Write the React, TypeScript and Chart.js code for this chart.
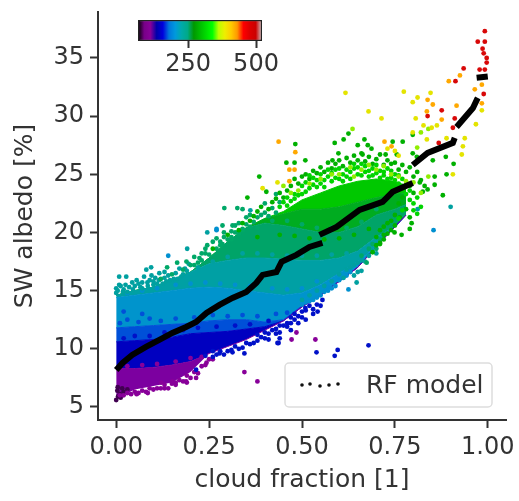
import React, { useEffect, useRef } from "react";
import { Chart, registerables } from "chart.js";

Chart.register(...registerables);

const FONT = "'DejaVu Sans'";
const INK = "#333333";

const xTicks = [0, 0.25, 0.5, 0.75, 1];
const yTicks = [5, 10, 15, 20, 25, 30, 35];
const barTicks = [250, 500];
const yTitle = "SW albedo [%]";
const xTitle = "cloud fraction [1]";
const legendLabel = "RF model";

// nipy_spectral stops for the colour bar
const spectral = ["#000000", "#780088", "#880099", "#0000aa", "#0000dd", "#0077dd", "#0099dd", "#00aaaa", "#00aa88", "#009900", "#00bb00", "#00dd00", "#00ff00", "#bbff00", "#eeee00", "#ffcc00", "#ff9900", "#ff0000", "#dd0000", "#cc0000", "#cccccc"];

// RF model, null marks the visible breaks in the curve
const rfX = [0, 0.017, 0.043, 0.08, 0.116, 0.151, 0.188, 0.215, 0.243, 0.278, 0.313, 0.35, 0.377, 0.394, 0.431, 0.445, 0.485, 0.52, 0.555, null, 0.547, 0.593, 0.655, 0.717, 0.744, 0.798, null, 0.798, 0.838, 0.906, 0.911, null, 0.916, 0.96, 0.973, null, 0.97, 1.0];
const rfY = [8.18, 8.78, 9.47, 10.16, 10.76, 11.36, 11.88, 12.3, 13.08, 13.77, 14.37, 14.89, 15.66, 16.35, 16.6, 17.47, 18.07, 18.76, 19.1, null, 19.79, 20.48, 21.94, 22.63, 23.49, 24.26, null, 25.8, 26.84, 27.7, 28.13, null, 29.07, 30.7, 31.57, null, 33.29, 33.4];

// solid core of the cloud, boundaries between colour bands
const bandX = [0, 0.05, 0.1, 0.15, 0.2, 0.25, 0.3, 0.35, 0.4, 0.45, 0.5, 0.55, 0.6, 0.65, 0.7, 0.75, 0.78];
const edgeLow = [5.7, 6.5, 6.8, 7.1, 8.0, 9.6, 10.2, 10.8, 11.6, 12.4, 13.6, 14.6, 15.8, 17.0, 18.8, 20.5, 21.5];
const purpleTop = [8.3, 8.3, 8.4, 8.6, 8.9, 9.6, 10.2, 10.8, 11.6, 12.4, 13.6, 14.6, 15.8, 17.0, 18.8, 20.5, 21.5];
const deepBlueTop = [10.6, 10.7, 10.8, 11.0, 11.3, 11.4, 11.5, 11.7, 11.9, 12.4, 13.6, 14.6, 15.8, 17.0, 18.8, 20.5, 21.5];
const blueTop = [11.8, 11.9, 12.0, 12.1, 12.2, 12.4, 12.5, 12.5, 12.3, 12.5, 13.7, 14.6, 15.8, 17.0, 18.8, 20.5, 21.5];
const skyTop = [14.4, 14.6, 14.8, 15.0, 15.2, 15.3, 15.2, 15.0, 14.8, 14.6, 14.8, 15.5, 16.5, 17.5, 18.8, 20.5, 21.5];
const tealTop = [14.6, 15.0, 15.3, 15.9, 16.6, 17.3, 17.6, 17.8, 17.8, 17.7, 17.6, 17.6, 17.8, 18.4, 19.6, 20.5, 21.5];
const seaTop = [14.6, 15.0, 15.3, 15.9, 16.6, 17.8, 19.2, 20.4, 20.8, 20.6, 20.3, 20.0, 20.0, 20.5, 21.5, 22.0, 22.4];
const greenTop = [14.6, 15.0, 15.3, 15.9, 16.6, 17.8, 19.2, 20.4, 21.2, 21.6, 22.0, 22.0, 22.2, 22.6, 23.0, 23.3, 23.4];
const edgeTop = [14.6, 15.0, 15.3, 15.9, 16.6, 17.8, 19.2, 20.4, 21.2, 21.8, 22.8, 23.4, 24.0, 24.4, 24.6, 24.4, 24.0];

// individual fringe points: x, y pairs
const redPts = [0.992, 37.3, 0.973, 36.4, 0.992, 36.4, 0.986, 35.8, 0.989, 35.4, 0.997, 35, 0.997, 34.6, 0.978, 34, 0.992, 34, 0.935, 34.1, 0.913, 33, 0.989, 31.9, 0.876, 30.5, 0.838, 30, 0.868, 27.7, 0.911, 29.8, 0.906, 29];
const orangePts = [0.895, 33, 0.925, 33.5, 0.965, 32.3, 0.984, 32.7, 0.984, 31.1, 0.916, 30.9, 0.876, 29.7, 0.722, 27.8, 0.741, 27.4, 0.852, 31, 0.838, 31.4, 0.836, 30.4, 0.437, 27.8, 0.482, 26.9, 0.466, 25.4, 0.48, 25.4, 0.466, 24.4];
const yellowPts = [0.617, 32, 0.774, 32.1, 0.679, 30.4, 0.714, 29.8, 0.798, 31.2, 0.811, 31.6, 0.846, 32, 0.806, 29.8, 0.827, 29.2, 0.849, 29, 0.863, 29.2, 0.798, 28.6, 0.889, 28.1, 0.968, 29.3, 0.984, 30.5, 0.938, 28.1, 0.933, 27.4, 0.93, 26.7, 0.906, 25, 0.836, 28, 0.394, 23.8, 0.434, 24.3, 0.75, 27, 0.76, 26.6, 0.73, 27.2];
const limePts = [0.636, 28.9, 0.63, 25.6, 0.66, 25.4, 0.68, 25.8, 0.7, 25.4, 0.72, 25.7, 0.74, 25, 0.64, 24.8, 0.58, 25, 0.55, 24.6, 0.52, 24.2, 0.47, 23.4, 0.45, 24, 0.49, 23.6, 0.6, 25, 0.76, 24.8, 0.8, 24.3, 0.84, 24.8, 0.82, 23.4, 0.78, 24.4, 0.82, 28.6, 0.84, 28.9, 0.81, 27.3];
const brightPts = [0.44, 22.2, 0.45, 22.6, 0.46, 22.3, 0.46, 23, 0.47, 22.7, 0.48, 23.3, 0.48, 22.9, 0.49, 23.2, 0.5, 23.3, 0.5, 24, 0.51, 23.5, 0.51, 24.3, 0.52, 23.8, 0.52, 24.9, 0.53, 24.1, 0.53, 24.7, 0.54, 23.9, 0.54, 24.5, 0.55, 24.2, 0.55, 25, 0.56, 24.5, 0.56, 23.9, 0.57, 24.8, 0.57, 25.4, 0.58, 24.4, 0.58, 25.1, 0.59, 24.7, 0.59, 25.4, 0.6, 24.6, 0.6, 25.5, 0.61, 25, 0.61, 24.4, 0.62, 25.4, 0.62, 24.8, 0.63, 25.2, 0.63, 24.6, 0.64, 25.5, 0.64, 25.9, 0.65, 25, 0.65, 25.6, 0.66, 24.9, 0.66, 25.9, 0.67, 25.2, 0.67, 25.7, 0.68, 24.8, 0.68, 25.3, 0.69, 25.5, 0.69, 24.9, 0.7, 25.1, 0.7, 25.8, 0.71, 25.3, 0.71, 24.7, 0.72, 25.2, 0.72, 24.9, 0.73, 25.5, 0.73, 24.6, 0.74, 25.3, 0.74, 24.7, 0.75, 25, 0.75, 24.5, 0.76, 24.9, 0.76, 24.2, 0.77, 24.6, 0.77, 24, 0.78, 24.1, 0.78, 23.3, 0.79, 23.6, 0.79, 22.8, 0.8, 22.5, 0.8, 21.9, 0.81, 23, 0.81, 21.6, 0.82, 22.2, 0.77, 21.9, 0.76, 21.2];
const greenPts = [0.625, 28.5, 0.612, 28, 0.588, 27.7, 0.598, 26.8, 0.668, 28, 0.65, 27.5, 0.677, 27.5, 0.687, 27.2, 0.663, 26.7, 0.725, 26.7, 0.755, 26.7, 0.744, 27.8, 0.771, 27.8, 0.798, 28.4, 0.798, 26.8, 0.809, 26.5, 0.887, 26.5, 0.908, 25.9, 0.852, 26.2, 0.889, 25, 0.857, 24.8, 0.857, 24.1, 0.879, 23.2, 0.838, 23.7, 0.817, 24.3, 0.825, 23.5, 0.763, 21.3, 0.79, 21.3, 0.795, 20.8, 0.749, 20, 0.768, 19.8, 0.509, 26.2, 0.582, 26.2, 0.482, 27.6, 0.458, 26, 0.48, 26, 0.385, 24.8, 0.353, 23, 0.404, 23.5,
  0.26, 18.6, 0.3, 19.8, 0.33, 20.2, 0.34, 20.8, 0.36, 21, 0.37, 21.4, 0.38, 21.8, 0.39, 22.2, 0.41, 22, 0.42, 22.6, 0.43, 22.9, 0.44, 23.4, 0.45, 23, 0.46, 23.6, 0.47, 24, 0.48, 24.6, 0.49, 24.2, 0.5, 24.8, 0.51, 25, 0.52, 24.6, 0.53, 25.3, 0.54, 25.1, 0.55, 25.6, 0.56, 25.2, 0.57, 26, 0.58, 25.5, 0.59, 25.9, 0.6, 26.2, 0.61, 25.7, 0.62, 26.4, 0.63, 26, 0.64, 26.6, 0.65, 26.2, 0.66, 26.8, 0.67, 26.1, 0.68, 26.5, 0.69, 25.9, 0.7, 26.3, 0.71, 26.7, 0.72, 25.8, 0.73, 26.2, 0.74, 25.9, 0.75, 26, 0.76, 25.4, 0.77, 25.8, 0.78, 25.2, 0.79, 25.6, 0.8, 24.8, 0.81, 25.2, 0.82, 24.5, 0.83, 24, 0.79, 24, 0.8, 23.4, 0.77, 23, 0.76, 22.5, 0.78, 22, 0.75, 21.5, 0.74, 21, 0.73, 20.8, 0.72, 20.5, 0.71, 20.2, 0.7, 19.6, 0.69, 18.3,
  0.75, 20.6, 0.74, 20.2, 0.73, 19.9, 0.72, 19.4, 0.71, 19.1, 0.7, 18.9, 0.79, 20.3, 0.72, 19.8, 0.71, 19, 0.38, 19.6, 0.44, 19.8, 0.48, 19.7, 0.52, 19.5, 0.56, 19.4, 0.6, 19.5, 0.64, 19.8, 0.68, 20.3];
const seaPts = [0.137, 17, 0.164, 17.4, 0.189, 17.5, 0.224, 17.8, 0.245, 18.9, 0.286, 20.6, 0.313, 20.6, 0.291, 22.1, 0.326, 22.1, 0.34, 22, 0.286, 19, 0.31, 19.4, 0.28, 19.2, 0.24, 18.2, 0.21, 17.2, 0.18, 16.8, 0.15, 16.4, 0.12, 16, 0.674, 17.4, 0.66, 18, 0.68, 18.6, 0.69, 19,
  0.2, 17.2, 0.21, 17.9, 0.22, 17.4, 0.23, 18.2, 0.23, 17.6, 0.24, 18.6, 0.25, 18.1, 0.26, 19.2, 0.27, 18.6, 0.27, 19.5, 0.28, 18.9, 0.29, 19.6, 0.29, 20, 0.3, 19.4, 0.31, 20.1, 0.31, 19.6, 0.32, 20.6, 0.32, 20, 0.33, 20.8, 0.33, 19.9, 0.34, 20.3, 0.35, 21.3, 0.35, 20.7, 0.36, 20.5, 0.36, 21.5, 0.37, 20.9, 0.38, 21.3, 0.39, 21.5, 0.4, 21.7, 0.4, 22.5, 0.41, 21.4, 0.42, 22.1, 0.43, 21.7, 0.43, 23.3, 0.44, 22.6,
  0.34, 20.2, 0.38, 20.4, 0.42, 21, 0.46, 21, 0.5, 20.7, 0.54, 20.4, 0.58, 20.4, 0.62, 20.4, 0.66, 20.9, 0.7, 22, 0.7, 18.6, 0.71, 19.4];
const tealPts = [0.008, 16.2, 0.027, 16.2, 0.008, 15.5, 0.043, 15.7, 0.081, 16.8, 0.094, 17, 0.084, 15.7, 0.116, 16.5, 0.02, 15.1, 0.06, 15.6, 0.07, 15.2, 0.1, 15.8, 0.13, 16.1, 0.191, 18.6, 0.245, 20, 0.361, 21.9, 0.647, 15.7, 0.612, 16.1, 0.9, 22.2, 0.811, 22, 0.5, 14.2, 0.52, 14.6, 0.54, 15, 0.56, 15.4, 0.58, 15.8, 0.6, 16.4, 0.62, 16.8, 0.64, 17.2,
  0, 14.8, 0, 15.2, 0.004, 15, 0.012, 15.4, 0.018, 14.9, 0.025, 15.5, 0.03, 14.9, 0.035, 15.3, 0.045, 15.1, 0.05, 15.4, 0.055, 15.9, 0.065, 15.3, 0.07, 15.7, 0.075, 16.2, 0.085, 15.4, 0.09, 15.9, 0.095, 16.3, 0.1, 15.5, 0.105, 16.1, 0.11, 15.6, 0.115, 15.9, 0.125, 15.6, 0.13, 16.6, 0.135, 15.8, 0.14, 16.3, 0.145, 15.9, 0.155, 16, 0.16, 16.5, 0.165, 16, 0.17, 16.9, 0.175, 16.2, 0.18, 16.4, 0.185, 16.9, 0.19, 16.7, 0.195, 17.3,
  0.63, 17, 0.65, 17.4, 0.66, 17.6, 0.67, 17.5, 0.68, 18, 0.69, 18.4, 0.66, 16.7, 0.64, 16.3, 0.65, 16.6, 0.7, 18.2, 0.22, 17, 0.26, 17.5, 0.3, 17.9, 0.34, 18.2, 0.38, 18.2, 0.42, 18.1, 0.46, 18, 0.5, 18, 0.54, 18, 0.58, 18.1, 0.62, 18.2];
const skyPts = [0.14, 18, 0.27, 20.2, 0.27, 20.3, 0.625, 15.1, 0.854, 20.2, 0.52, 14.1, 0.55, 14.6, 0.57, 15, 0.59, 15.4, 0.5, 13.8, 0.51, 14, 0.53, 14.2, 0.54, 14.4, 0.56, 14.9, 0.57, 15.3, 0.58, 15.2, 0.6, 15.9, 0.61, 16.1, 0.62, 16.3, 0.63, 16.6,
  0.03, 14.8, 0.07, 15, 0.11, 15.2, 0.16, 15.5, 0.2, 15.6, 0.24, 15.7, 0.28, 15.6, 0.32, 15.5, 0.36, 15.4, 0.42, 15.2, 0.46, 15.1, 0.5, 15.2, 0.54, 15.8];
const midBluePts = [0.01, 12.2, 0.03, 12.5, 0.06, 12.3, 0.09, 12.6, 0.12, 12.4, 0.02, 13.2, 0.07, 13, 0.16, 12.6, 0.21, 12.7, 0.26, 12.9, 0.3, 12.8, 0.34, 12.9, 0.38, 12.8, 0.43, 13, 0.46, 13.1];
const bluePts = [0.555, 14.2, 0.509, 13.5, 0.542, 13.2, 0.437, 10.5, 0.539, 9.7, 0.596, 9.9, 0.588, 9.4, 0.679, 10.3, 0.434, 10.5, 0.345, 9.6, 0.313, 9.7, 0.278, 9.6, 0.215, 8.2, 0.38, 11.2, 0.4, 11.4, 0.42, 11.6, 0.44, 12, 0.46, 12.2, 0.47, 12.7, 0.48, 13, 0.5, 13.2, 0.52, 13.7, 0.43, 11.3, 0.41, 10.8, 0.36, 10.4, 0.33, 10, 0.3, 9.8, 0.27, 9.5, 0.26, 9.8, 0.49, 12.2, 0.53, 13.4,
  0.24, 9.4, 0.26, 9.3, 0.28, 9.8, 0.29, 9.5, 0.31, 9.9, 0.32, 10.2, 0.34, 10.1, 0.35, 10.5, 0.37, 10.5, 0.38, 10.7, 0.39, 11, 0.4, 10.9, 0.41, 11.3, 0.43, 11.7, 0.44, 11.4, 0.45, 12, 0.46, 11.9, 0.47, 12.2, 0.48, 12.5, 0.49, 12.8, 0.5, 12.7, 0.51, 13.3, 0.44, 10.9, 0.47, 11.6, 0.51, 12.5, 0.53, 13, 0.55, 13.7, 0.54, 13.8,
  0.02, 10.9, 0.05, 11.1, 0.09, 11.1, 0.13, 11.4, 0.18, 11.6, 0.22, 11.8, 0.27, 11.9, 0.32, 12, 0.36, 12.1, 0.41, 12.4];
const purplePts = [0.345, 8, 0.38, 7.2, 0.472, 10.8, 0.485, 11.4, 0.536, 10.8, 0.243, 8.8, 0.188, 7.2, 0.215, 7.5, 0.151, 7.2, 0.121, 7.1, 0.03, 6.2, 0.05, 6.3, 0.07, 6.4, 0.09, 6.6, 0.11, 6.6, 0.13, 6.9, 0.15, 7, 0.17, 7.3, 0.19, 7.7, 0.21, 8, 0.23, 8.5, 0.25, 9.1,
  0.01, 6, 0.02, 6, 0.04, 6.1, 0.06, 6.2, 0.08, 6.3, 0.1, 6.5, 0.12, 6.6, 0.14, 6.6, 0.16, 6.9, 0.18, 7.2, 0.2, 7.5, 0.22, 7.9, 0.24, 8.6, 0.26, 9.1, 0.19, 7.1, 0.16, 7.1, 0.13, 6.6, 0.085, 6.2, 0.055, 6.1,
  0.03, 8.5, 0.07, 8.6, 0.11, 8.7, 0.16, 8.9, 0.2, 9.2, 0.23, 9.3];
const duskPts = [0, 5.6, 0.005, 5.9, 0.01, 6.1, 0.003, 6.4, 0.02, 6.3, 0.012, 5.8, 0.004, 6.7, 0.016, 6.6, 0.03, 6.5];

const pairs = (flat: number[]) => {
  const out: { x: number; y: number }[] = [];
  for (let i = 0; i < flat.length; i += 2) out.push({ x: flat[i], y: flat[i + 1] });
  return out;
};
const zip = (xs: (number | null)[], ys: (number | null)[]) => xs.map((x, i) => ({ x, y: ys[i] }));

const dots = (label: string, flat: number[], color: string) => ({
  label, data: pairs(flat), backgroundColor: color, borderColor: color, pointRadius: 2.4, pointBorderWidth: 0, showLine: false,
});
const band = (label: string, ys: number[], color: string | null) => ({
  label, data: zip(bandX, ys), showLine: true, pointRadius: 0, tension: 0,
  borderColor: color ?? "rgba(0,0,0,0)", borderWidth: color ? 1 : 0,
  backgroundColor: color ?? "rgba(0,0,0,0)", fill: color ? "-1" : false,
});

const legendBox = {
  id: "legendBox",
  afterDraw(chart: any) {
    const { ctx } = chart;
    ctx.save();
    ctx.fillStyle = "rgba(255,255,255,0.85)";
    ctx.strokeStyle = "#dddddd";
    ctx.lineWidth = 1.5;
    ctx.beginPath();
    ctx.roundRect(285, 363, 207, 44, 4);
    ctx.fill();
    ctx.stroke();
    ctx.fillStyle = "#111111";
    [[302, 385], [310, 384], [320, 386], [329, 385], [338, 384]].forEach(([x, y]) => {
      ctx.beginPath();
      ctx.arc(x, y, 1.8, 0, Math.PI * 2);
      ctx.fill();
    });
    ctx.fillStyle = INK;
    ctx.font = `25px ${FONT}`;
    ctx.textBaseline = "alphabetic";
    ctx.textAlign = "left";
    ctx.fillText(legendLabel, 366, 393);
    ctx.restore();
  },
};

export default function App() {
  const mainRef = useRef<HTMLCanvasElement>(null);
  const barRef = useRef<HTMLCanvasElement>(null);

  useEffect(() => {
    const main = new Chart(mainRef.current!, {
      type: "scatter",
      data: {
        datasets: [
          { label: legendLabel, data: zip(rfX, rfY), showLine: true, spanGaps: false, borderColor: "#000000", borderWidth: 6, pointRadius: 0, tension: 0 },
          dots("red", redPts, "#d80808"),
          dots("orange", orangePts, "#ffa800"),
          dots("yellow", yellowPts, "#e4e400"),
          dots("lime", limePts, "#90ee00"),
          dots("bright", brightPts, "#00d400"),
          dots("green", greenPts, "#00b000"),
          dots("sea", seaPts, "#00a868"),
          dots("teal", tealPts, "#00a0a0"),
          dots("sky", skyPts, "#0090d0"),
          dots("midBlue", midBluePts, "#0050d8"),
          dots("blue", bluePts, "#0010c8"),
          dots("purple", purplePts, "#880099"),
          dots("dusk", duskPts, "#400050"),
          band("b0", edgeLow, null),
          band("b1", purpleTop, "#7c00a0"),
          band("b2", deepBlueTop, "#0000c0"),
          band("b3", blueTop, "#0050d8"),
          band("b4", skyTop, "#0094cc"),
          band("b5", tealTop, "#00a0a4"),
          band("b6", seaTop, "#00a468"),
          band("b7", greenTop, "#00ac20"),
          band("b8", edgeTop, "#00c800"),
        ] as any,
      },
      options: {
        animation: false,
        responsive: false,
        layout: { padding: { left: 0, right: 13, top: 12, bottom: 0 } },
        plugins: { legend: { display: false }, tooltip: { enabled: false } },
        scales: {
          x: {
            type: "linear", min: -0.049, max: 1.049,
            afterBuildTicks: (s: any) => { s.ticks = xTicks.map((value) => ({ value })); },
            afterFit: (s: any) => { s.height = 81; s.paddingLeft = 0; s.paddingRight = 0; },
            ticks: { callback: (v: any) => Number(v).toFixed(2), color: INK, font: { family: FONT, size: 24 }, padding: 5, maxRotation: 0, autoSkip: false },
            grid: { drawOnChartArea: false, drawTicks: true, tickLength: 8, tickWidth: 2, color: INK },
            border: { display: true, color: INK, width: 2 },
            title: { display: true, text: xTitle, color: INK, font: { family: FONT, size: 25 }, padding: { top: 2, bottom: 6 } },
          },
          y: {
            type: "linear", min: 3.88, max: 38.95,
            afterBuildTicks: (s: any) => { s.ticks = yTicks.map((value) => ({ value })); },
            afterFit: (s: any) => { s.width = 98; s.paddingTop = 0; s.paddingBottom = 0; },
            ticks: { color: INK, font: { family: FONT, size: 24 }, padding: 6, autoSkip: false },
            grid: { drawOnChartArea: false, drawTicks: true, tickLength: 8, tickWidth: 2, color: INK },
            border: { display: true, color: INK, width: 2 },
            title: { display: true, text: yTitle, color: INK, font: { family: FONT, size: 25 }, padding: { top: 10, bottom: 0 } },
          },
        },
      } as any,
      plugins: [legendBox],
    });

    const bar = new Chart(barRef.current!, {
      type: "bar",
      data: {
        labels: ["v"],
        datasets: [{
          data: [[66, 522]],
          barPercentage: 1, categoryPercentage: 1, borderWidth: 1.5, borderColor: "#222222", borderSkipped: false,
          backgroundColor: (c: any) => {
            const a = c.chart.chartArea;
            if (!a) return "#000000";
            const g = c.chart.ctx.createLinearGradient(a.left, 0, a.right, 0);
            spectral.forEach((col, i) => g.addColorStop(i / (spectral.length - 1), col));
            return g;
          },
        }] as any,
      },
      options: {
        indexAxis: "y",
        animation: false,
        responsive: false,
        layout: { padding: { left: 138, right: 257, top: 20, bottom: 0 } },
        plugins: { legend: { display: false }, tooltip: { enabled: false } },
        scales: {
          y: { type: "category", display: false },
          x: {
            type: "linear", min: 66, max: 522,
            afterBuildTicks: (s: any) => { s.ticks = barTicks.map((value) => ({ value })); },
            afterFit: (s: any) => { s.height = 49; s.paddingLeft = 0; s.paddingRight = 0; },
            ticks: { color: INK, font: { family: FONT, size: 24 }, padding: 2, maxRotation: 0, autoSkip: false },
            grid: { drawOnChartArea: false, drawTicks: true, tickLength: 7, tickWidth: 2, color: INK },
            border: { display: false },
          },
        },
      } as any,
    });

    return () => { main.destroy(); bar.destroy(); };
  }, []);

  return (
    <div style={{ position: "fixed", left: 0, top: 0, width: 519, height: 501, background: "#ffffff", filter: "blur(0.5px)" }}>
      <canvas ref={mainRef} width={519} height={501} style={{ position: "absolute", left: 0, top: 0 }} />
      <canvas ref={barRef} width={519} height={90} style={{ position: "absolute", left: 0, top: 0, pointerEvents: "none" }} />
    </div>
  );
}
